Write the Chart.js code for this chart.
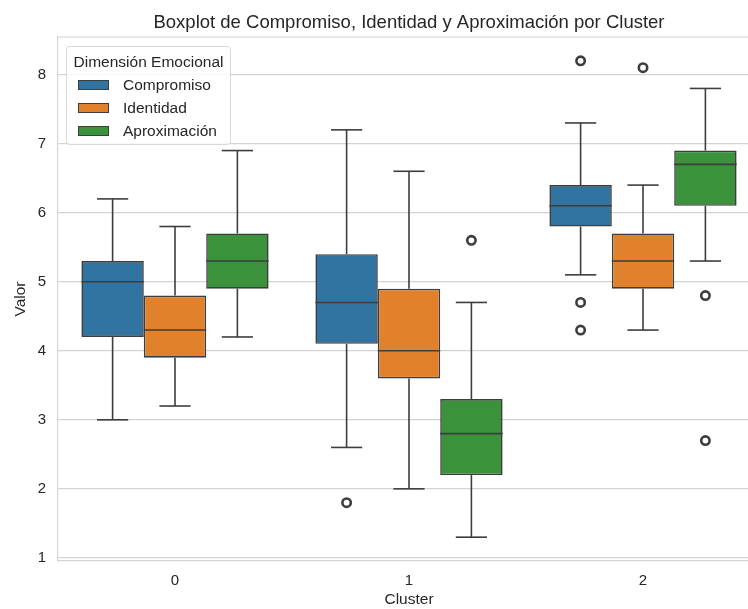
<!DOCTYPE html>
<html>
<head>
<meta charset="utf-8">
<script src="https://cdn.jsdelivr.net/npm/chart.js@4.4.1/dist/chart.umd.min.js"></script>
<style>
  html, body { margin: 0; padding: 0; overflow: hidden; background: #fff; }
  #wrap { position: relative; width: 760px; height: 609px; }
  #legend {
    position: absolute; left: 66px; top: 46px; width: 163px; height: 97px;
    border: 1px solid #d9d9d9; border-radius: 4px; background: rgba(255,255,255,0.8);
    font-family: 'Liberation Sans', Arial, sans-serif; font-size: 15.5px; color: #262626;
  }
  #legend .title { height: 23px; line-height: 23px; margin-top: 3px; text-align: center; }
  #legend .item { height: 23px; display: flex; align-items: center; }
  #legend .patch { box-sizing: border-box; width: 31px; height: 10px; margin-left: 11px; margin-right: 14px; border: 1px solid #3d3d3d; }
</style>
</head>
<body>
<div id="wrap">
  <canvas id="chart" width="760" height="609"></canvas>
  <div id="legend"></div>
</div>
<script>
// categories
const clusters = ['0', '1', '2'];
const dimensions = ['Compromiso', 'Identidad', 'Aproximación'];

// box statistics, one row per dimension, one value per cluster
const whiskerLow  = [[3.0, 2.6, 5.1], [3.2, 2.0, 4.3], [4.2, 1.3, 5.3]];
const q1          = [[4.2, 4.1, 5.8], [3.9, 3.6, 4.9], [4.9, 2.2, 6.1]];
const median      = [[5.0, 4.7, 6.1], [4.3, 4.0, 5.3], [5.3, 2.8, 6.7]];
const q3          = [[5.3, 5.4, 6.4], [4.8, 4.9, 5.7], [5.7, 3.3, 6.9]];
const whiskerHigh = [[6.2, 7.2, 7.3], [5.8, 6.6, 6.4], [6.9, 4.7, 7.8]];
const outliers = [
  [[], [1.8], [8.2, 4.7, 4.3]],
  [[], [], [8.1]],
  [[], [5.6], [4.8, 2.7]]
];

const colors = ['#3274a1', '#e1812c', '#3a923a'];
const lineColor = '#3d3d3d';
const gridColor = '#d4d4d4';
const textColor = '#262626';
const fontFamily = "'Liberation Sans', Arial, sans-serif";

// whiskers, medians, fliers drawn on top of the floating bars
const boxExtras = {
  id: 'boxExtras',
  afterDatasetsDraw(chart) {
    const ctx = chart.ctx;
    const y = chart.scales.y;
    const line = (x1, y1, x2, y2) => {
      ctx.beginPath();
      ctx.moveTo(x1, y1);
      ctx.lineTo(x2, y2);
      ctx.stroke();
    };
    ctx.save();
    ctx.strokeStyle = lineColor;
    dimensions.forEach((dim, d) => {
      chart.getDatasetMeta(d).data.forEach((bar, c) => {
        const x = bar.x, half = bar.width / 2;
        const yLo = y.getPixelForValue(whiskerLow[d][c]);
        const yHi = y.getPixelForValue(whiskerHigh[d][c]);
        ctx.lineWidth = 1.6;
        line(x, y.getPixelForValue(q3[d][c]), x, yHi);
        line(x, y.getPixelForValue(q1[d][c]), x, yLo);
        line(x - half / 2, yHi, x + half / 2, yHi);
        line(x - half / 2, yLo, x + half / 2, yLo);
        const yMed = y.getPixelForValue(median[d][c]);
        line(x - half, yMed, x + half, yMed);
        ctx.lineWidth = 2.6;
        outliers[d][c].forEach(v => {
          ctx.beginPath();
          ctx.arc(x, y.getPixelForValue(v), 4.2, 0, Math.PI * 2);
          ctx.stroke();
        });
      });
    });
    ctx.restore();
  }
};

// top and right spines
const frame = {
  id: 'frame',
  beforeDatasetsDraw(chart) {
    const {ctx, chartArea: a} = chart;
    ctx.save();
    ctx.strokeStyle = gridColor;
    ctx.lineWidth = 1.2;
    ctx.beginPath();
    ctx.moveTo(a.left, a.top);
    ctx.lineTo(a.right, a.top);
    ctx.lineTo(a.right, a.bottom);
    ctx.stroke();
    ctx.restore();
  }
};

new Chart(document.getElementById('chart'), {
  type: 'bar',
  data: {
    labels: clusters,
    datasets: dimensions.map((dim, d) => ({
      label: dim,
      data: clusters.map((c, i) => [q1[d][i], q3[d][i]]),
      backgroundColor: colors[d],
      borderColor: lineColor,
      borderWidth: 1.6,
      borderSkipped: false,
      categoryPercentage: 0.8,
      barPercentage: 1.0
    }))
  },
  options: {
    responsive: false,
    animation: false,
    layout: { padding: 0 },
    plugins: {
      legend: { display: false },
      tooltip: { enabled: false },
      title: {
        display: true,
        fullSize: false,
        text: 'Boxplot de Compromiso, Identidad y Aproximación por Cluster',
        color: textColor,
        font: { family: fontFamily, size: 18.5, weight: 'normal' },
        padding: { top: 12, bottom: 2.8 }
      }
    },
    scales: {
      x: {
        grid: { display: false },
        border: { color: gridColor, width: 1.2 },
        ticks: { color: textColor, padding: 3, font: { family: fontFamily, size: 15 } },
        title: {
          display: true, text: 'Cluster', color: textColor,
          font: { family: fontFamily, size: 15.5 }, padding: { top: 0, bottom: 0 }
        },
        afterFit(scale) { scale.height = 48; }
      },
      y: {
        min: 0.955,
        max: 8.545,
        grid: { color: gridColor, lineWidth: 1.2, drawTicks: false },
        border: { color: gridColor, width: 1.2 },
        ticks: { stepSize: 1, includeBounds: false, color: textColor, padding: 12, font: { family: fontFamily, size: 15 } },
        title: {
          display: true, text: 'Valor', color: textColor,
          font: { family: fontFamily, size: 15.5 }, padding: { top: 11.5, bottom: 0 }
        },
        afterFit(scale) { scale.width = 58; }
      }
    }
  },
  plugins: [frame, boxExtras]
});

// legend inside the plot, upper left
const legend = document.getElementById('legend');
legend.innerHTML = '<div class="title">Dimensión Emocional</div>' +
  dimensions.map((dim, d) =>
    `<div class="item"><span class="patch" style="background:${colors[d]}"></span><span>${dim}</span></div>`
  ).join('');
</script>
</body>
</html>
